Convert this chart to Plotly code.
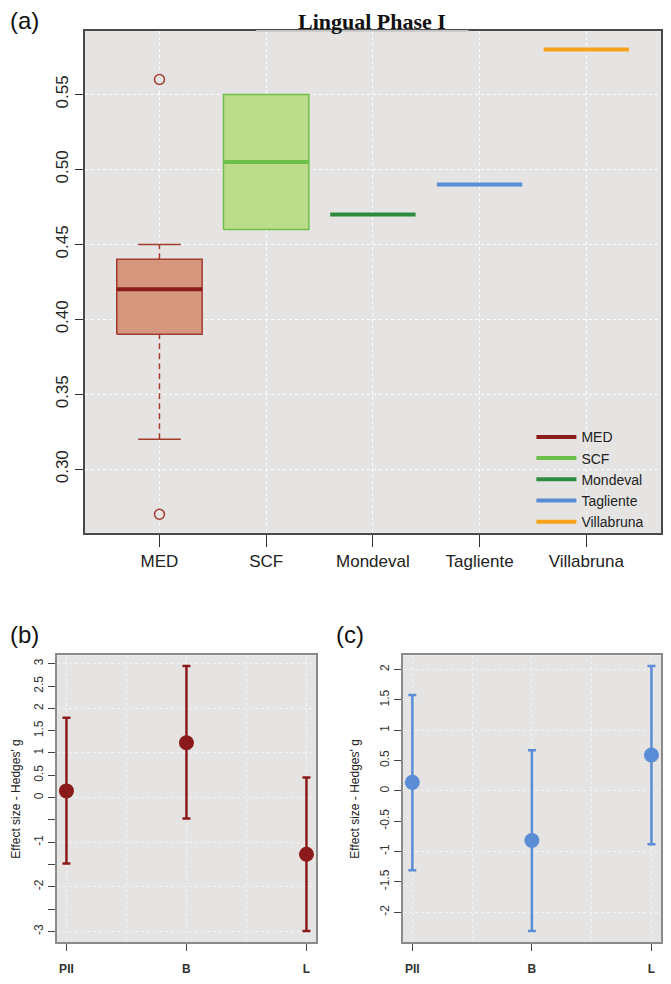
import numpy as np
import plotly.graph_objects as go

# panel (a) - boxplot values
groups = ["MED", "SCF", "Mondeval", "Tagliente", "Villabruna"]
q1 = [0.39, 0.46, 0.47, 0.49, 0.58]
median = [0.42, 0.505, 0.47, 0.49, 0.58]
q3 = [0.44, 0.55, 0.47, 0.49, 0.58]
whisker_lo = [0.32, 0.46, 0.47, 0.49, 0.58]
whisker_hi = [0.45, 0.55, 0.47, 0.49, 0.58]
med_outliers = [0.56, 0.27]

# panel (b) and (c) - effect sizes
tests = ["PII", "B", "L"]
b_g = [0.15, 1.23, -1.27]
b_lo = [-1.48, -0.47, -2.99]
b_hi = [1.79, 2.95, 0.45]
c_g = [0.14, -0.82, 0.59]
c_lo = [-1.31, -2.31, -0.88]
c_hi = [1.58, 0.67, 2.06]

med_col = ["#8B1A1A", "#6CC04A", "#2E8B3E", "#5B8CD6", "#F7A21B"]
fill_col = ["#D6977F", "#BCDB8B", "#2E8B3E", "#5B8CD6", "#F7A21B"]
edge_col = ["#A33B2E", "#6CC04A", "#2E8B3E", "#5B8CD6", "#F7A21B"]
FONT = "Liberation Sans"
BG = "#E5E4E3"

# page body has an 8px margin, so the figure is a bit smaller than the window
W, H, M = 655, 968, 8
px = lambda x: (x - M) / W
py = lambda y: 1 - (y - M) / H

fig = go.Figure()

pos = np.arange(1, len(groups) + 1)
hw = 0.4
for i, g in enumerate(groups):
    p = pos[i]
    if q3[i] > q1[i]:
        fig.add_trace(go.Scatter(x=[p - hw, p + hw, p + hw, p - hw, p - hw],
                                 y=[q1[i], q1[i], q3[i], q3[i], q1[i]],
                                 mode="lines", fill="toself", fillcolor=fill_col[i],
                                 line=dict(color=edge_col[i], width=1.5),
                                 showlegend=False, hoverinfo="skip"))
    if whisker_hi[i] > q3[i]:
        fig.add_trace(go.Scatter(x=[p, p], y=[q3[i], whisker_hi[i]], mode="lines",
                                 line=dict(color=edge_col[i], width=1.5, dash="6px,4px"),
                                 showlegend=False))
        fig.add_trace(go.Scatter(x=[p - hw / 2, p + hw / 2], y=[whisker_hi[i]] * 2, mode="lines",
                                 line=dict(color=edge_col[i], width=1.5), showlegend=False))
    if whisker_lo[i] < q1[i]:
        fig.add_trace(go.Scatter(x=[p, p], y=[whisker_lo[i], q1[i]], mode="lines",
                                 line=dict(color=edge_col[i], width=1.5, dash="6px,4px"),
                                 showlegend=False))
        fig.add_trace(go.Scatter(x=[p - hw / 2, p + hw / 2], y=[whisker_lo[i]] * 2, mode="lines",
                                 line=dict(color=edge_col[i], width=1.5), showlegend=False))
    # median line, also used for the legend
    fig.add_trace(go.Scatter(x=[p - hw, p + hw], y=[median[i]] * 2, mode="lines",
                             line=dict(color=med_col[i], width=4), name=g, showlegend=True))

fig.add_trace(go.Scatter(x=[pos[0]] * len(med_outliers), y=med_outliers, mode="markers",
                         marker=dict(symbol="circle-open", size=10, color=edge_col[0],
                                     line=dict(width=1.5)),
                         showlegend=False))

# effect size panels
tpos = np.arange(1, len(tests) + 1)
for g, lo, hi, col, xa, ya in [(b_g, b_lo, b_hi, "#8B1A1A", "x2", "y2"),
                                (c_g, c_lo, c_hi, "#5B8CD6", "x3", "y3")]:
    g = np.array(g)
    fig.add_trace(go.Scatter(x=tpos, y=g, mode="markers", xaxis=xa, yaxis=ya,
                             marker=dict(size=15, color=col),
                             error_y=dict(type="data", symmetric=False,
                                          array=np.array(hi) - g, arrayminus=g - np.array(lo),
                                          color=col, thickness=2.5, width=4),
                             showlegend=False))

ax_a = dict(showline=True, linecolor="#4A4A4A", linewidth=1.5, mirror=True,
            ticks="outside", ticklen=8, tickcolor="#333", tickwidth=1.2,
            showgrid=True, gridcolor="white", griddash="dot", gridwidth=1.4,
            zeroline=False, tickfont=dict(family=FONT, size=17, color="#222"))

small = dict(showline=True, linecolor="#8A8A8A", linewidth=1.5, mirror=True,
             ticks="outside", ticklen=7, tickcolor="#444", tickwidth=1.2,
             showgrid=False, zeroline=False,
             tickfont=dict(family=FONT, size=12, color="#333"))

minor_grid = lambda d, t0: dict(showgrid=True, dtick=d, tick0=t0, gridcolor="#F4F4F4",
                                griddash="dot", gridwidth=1, ticks="")

b_ticks = [3, 2.5, 2, 1.5, 1, 0.5, 0, -0.5, -1, -1.5, -2, -2.5, -3]
b_text = ["3", "2.5", "2", "1.5", "1", "0.5", "0", "", "-1", "", "-2", "", "-3"]
c_ticks = [2, 1.5, 1, 0.5, 0, -0.5, -1, -1.5, -2]
c_text = ["2", "1.5", "1", "0.5", "0", "-0.5", "-1", "-1.5", "-2"]
test_text = ["<b>%s</b>" % t for t in tests]

fig.update_layout(
    width=W, height=H, margin=dict(l=0, r=0, t=0, b=0),
    paper_bgcolor="white", plot_bgcolor=BG,
    xaxis=dict(ax_a, domain=[px(85), px(663)], range=[0.3, 5.7],
               tickvals=list(pos), ticktext=groups, ticklen=12),
    yaxis=dict(ax_a, domain=[py(535), py(31)], range=[0.2576, 0.5924],
               tickvals=[0.30, 0.35, 0.40, 0.45, 0.50, 0.55],
               ticktext=["0.30", "0.35", "0.40", "0.45", "0.50", "0.55"], tickangle=-90),
    xaxis2=dict(small, domain=[px(57), px(317)], range=[0.92, 3.08], anchor="y2",
                tickvals=list(tpos), ticktext=test_text, ticklabelstandoff=8,
                minor=minor_grid(0.5, 1)),
    yaxis2=dict(small, domain=[py(946), py(658)], range=[-3.24, 3.19], anchor="x2",
                tickvals=b_ticks, ticktext=b_text, tickangle=-90, minor=minor_grid(1, 0)),
    xaxis3=dict(small, domain=[px(404), px(663)], range=[0.92, 3.08], anchor="y3",
                tickvals=list(tpos), ticktext=test_text, ticklabelstandoff=8,
                minor=minor_grid(0.5, 1)),
    yaxis3=dict(small, domain=[py(946), py(658)], range=[-2.495, 2.235], anchor="x3",
                tickvals=c_ticks, ticktext=c_text, tickangle=-90, minor=minor_grid(1, 0)),
    legend=dict(x=px(533), y=py(423), xanchor="left", yanchor="top",
                bgcolor="rgba(0,0,0,0)", font=dict(family=FONT, size=14, color="#222"),
                tracegroupgap=0, itemwidth=40),
    shapes=[dict(type="line", xref="paper", yref="paper", x0=px(257), x1=px(470),
                 y0=py(31), y1=py(31), line=dict(color="#C4C4C4", width=1.8))],
    annotations=[
        dict(text="<b>Lingual Phase I</b>", x=px(373), y=py(22), xref="paper", yref="paper",
             showarrow=False, font=dict(family="Liberation Serif", size=22, color="#111"),
             xanchor="center", yanchor="middle"),
        dict(text="(a)", x=px(8), y=py(21), xref="paper", yref="paper", showarrow=False,
             font=dict(family=FONT, size=24, color="#111"), xanchor="left", yanchor="middle"),
        dict(text="(b)", x=px(8), y=py(637), xref="paper", yref="paper", showarrow=False,
             font=dict(family=FONT, size=24, color="#111"), xanchor="left", yanchor="middle"),
        dict(text="(c)", x=px(335), y=py(637), xref="paper", yref="paper", showarrow=False,
             font=dict(family=FONT, size=24, color="#111"), xanchor="left", yanchor="middle"),
        dict(text="Effect size - Hedges' g", x=px(16), y=py(802), xref="paper", yref="paper",
             showarrow=False, textangle=-90, font=dict(family=FONT, size=12, color="#222"),
             xanchor="center", yanchor="middle"),
        dict(text="Effect size - Hedges' g", x=px(356), y=py(802), xref="paper", yref="paper",
             showarrow=False, textangle=-90, font=dict(family=FONT, size=12, color="#222"),
             xanchor="center", yanchor="middle"),
    ],
)

fig.write_html("out.html")
